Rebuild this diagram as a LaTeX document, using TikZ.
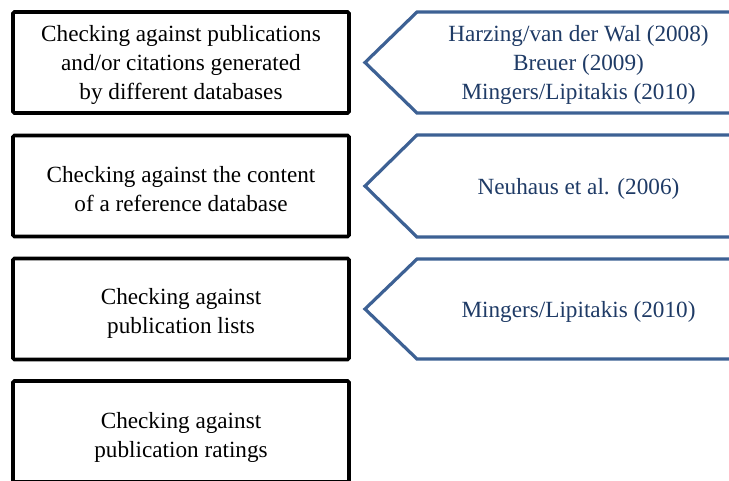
\documentclass[tikz,border=0pt]{standalone}
\usepackage{fontspec}
\setmainfont{Liberation Serif}
\definecolor{chevline}{HTML}{3D6194}
\definecolor{chevtext}{HTML}{1F3B66}
\tikzset{
  leftbox/.style={draw=black, line width=2.7pt, rounded corners=1pt, minimum width=252pt, minimum height=75.75pt, inner sep=0pt},
  boxtext/.style={align=center, font=\fontsize{17.4}{21.75}\selectfont, text=black, inner sep=0pt},
  chevron/.style={draw=chevline, line width=2.4pt, line join=miter, fill=white},
  chevtxt/.style={align=center, font=\fontsize{17.4}{21.75}\selectfont, text=chevtext, inner sep=0pt}
}
\begin{document}
\begin{tikzpicture}[x=0.75pt,y=-0.75pt]
\useasboundingbox (0,0) rectangle (729,480);
\clip (0,0) rectangle (729,480);
\fill[white] (0,0) rectangle (729,480);
% left boxes
\node[leftbox] (b1) at (181,62.5) {};
\node[leftbox] (b2) at (181,186) {};
\node[leftbox] (b3) at (181,309) {};
\node[leftbox] (b4) at (181,431.5) {};
\node[boxtext] (t1) at (181,65) {Checking against publications\\and/or citations generated\\by different databases};
\node[boxtext] (t2) at (181,189.5) {Checking against the content\\of a reference database};
\node[boxtext] (t3) at (181,313) {Checking against\\publication lists};
\node[boxtext] (t4) at (181,437.5) {Checking against\\publication ratings};
% chevrons
\draw[chevron] (417,12) -- (740,12) -- (740,113) -- (417,113) -- (365,62.5) -- cycle;
\draw[chevron] (417,135) -- (740,135) -- (740,237) -- (417,237) -- (365,186) -- cycle;
\draw[chevron] (417,259) -- (740,259) -- (740,359) -- (417,359) -- (365,309) -- cycle;
\node[chevtxt] (c1) at (578.5,65) {Harzing/van der Wal (2008)\\Breuer (2009)\\Mingers/Lipitakis (2010)};
\node[chevtxt] (c2) at (578.5,188.5) {Neuhaus et al. (2006)};
\node[chevtxt] (c3) at (578.5,311.5) {Mingers/Lipitakis (2010)};
\end{tikzpicture}
\end{document}
